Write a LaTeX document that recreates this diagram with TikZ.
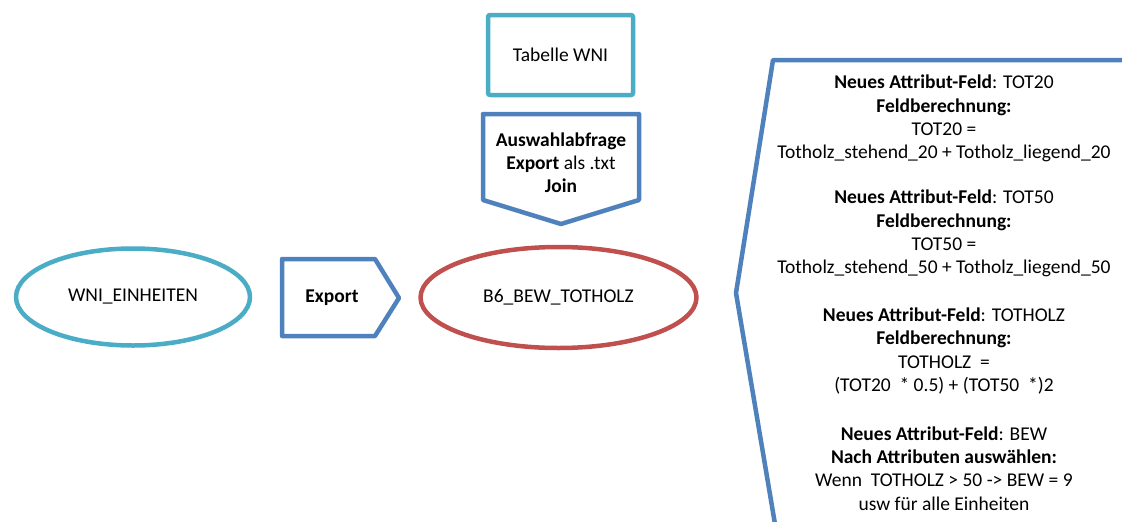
\documentclass[tikz,border=0pt]{standalone}
\usepackage{fontspec}
\setmainfont{Carlito}
\usetikzlibrary{shapes.geometric}
\definecolor{accTeal}{HTML}{4BACC6}
\definecolor{accBlue}{HTML}{4F81BD}
\definecolor{accRed}{HTML}{C0504D}

\begin{document}
\begin{tikzpicture}[x=1pt,y=-1pt,
  outline/.style={line width=4.5pt, line join=round},
  txt/.style={font=\fontsize{19.5}{23.2}\selectfont, align=center, inner sep=0pt, text=black},
  oval/.style={ellipse, outline, inner sep=0pt}]
  \useasboundingbox (0,0) rectangle (1122,522);
  \clip (0,0) rectangle (1122,522);

  % source layer and result layer
  \node[oval, draw=accTeal, minimum width=234pt, minimum height=97pt, txt] (wni) at (133,297) {WNI\_EINHEITEN};
  \node[oval, draw=accRed, minimum width=276pt, minimum height=101pt, txt] (b6) at (558.5,297.5) {B6\_BEW\_TOTHOLZ};

  % table box
  \draw[outline, draw=accTeal, rounded corners=2pt] (488,15) rectangle (633,95);
  \node[txt] (tab) at (560.5,55) {Tabelle WNI};

  % downward pentagon: query / export / join
  \draw[outline, draw=accBlue] (483,114) -- (639,114) -- (639,200) -- (561,224) -- (483,200) -- cycle;
  \node[txt] (join) at (561,163) {\textbf{Auswahlabfrage}\\\textbf{Export} als .txt\\\textbf{Join}};

  % export arrow shape
  \draw[outline, draw=accBlue] (282,259) -- (375,259) -- (399,298) -- (375,336) -- (282,336) -- cycle;
  \node[txt] (exp) at (332,298) {\textbf{Export}};

  % bracket holding the field calculations
  \coordinate (brTop) at (1130,60);
  \coordinate (brBot) at (776,530);
  \draw[outline, draw=accBlue] (brTop) -- (773,60) -- (736,293) -- (brBot);

  \node[txt] (f1) at (944,118.5) {\textbf{Neues Attribut-Feld}: TOT20\\\textbf{Feldberechnung:}\\TOT20 =\\Totholz\_stehend\_20 + Totholz\_liegend\_20};
  \node[txt] (f2) at (944,233.5) {\textbf{Neues Attribut-Feld}: TOT50\\\textbf{Feldberechnung:}\\TOT50 =\\Totholz\_stehend\_50 + Totholz\_liegend\_50};
  \node[txt] (f3) at (944,351) {\textbf{Neues Attribut-Feld}: TOTHOLZ\\\textbf{Feldberechnung:}\\TOTHOLZ \ =\\(TOT20 \ * 0.5) + (TOT50 \ *)2};
  \node[txt] (f4) at (944,468.5) {\textbf{Neues Attribut-Feld}: BEW\\\textbf{Nach Attributen auswählen:}\\Wenn \ TOTHOLZ > 50 -> BEW = 9\\usw für alle Einheiten};
\end{tikzpicture}
\end{document}
